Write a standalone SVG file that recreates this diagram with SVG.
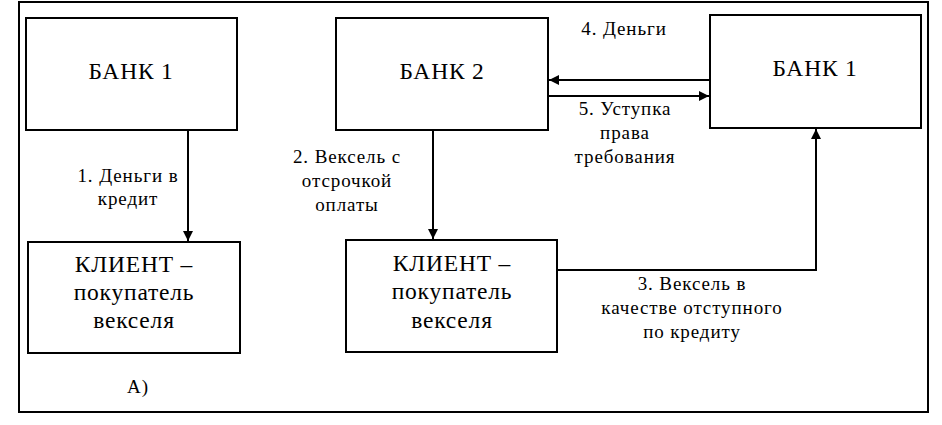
<svg xmlns="http://www.w3.org/2000/svg" width="942" height="425" viewBox="0 0 942 425">
<style>
.box{fill:#fff;stroke:#000;stroke-width:2}
.frame{fill:none;stroke:#000;stroke-width:2}
text{font-family:'Liberation Serif','Times New Roman',serif;text-anchor:middle;fill:#000}
.bt{font-size:23.5px;letter-spacing:0.8px}
.lt{font-size:19px;letter-spacing:0.9px}
.c{fill:none;stroke:#000;stroke-width:2}
</style>
<defs>
<marker id="ah" viewBox="0 0 10 10" refX="10" refY="5" markerWidth="5" markerHeight="5" orient="auto" markerUnits="strokeWidth">
<path d="M0,0 L10,5 L0,10 z" fill="#000"/>
</marker>
</defs>
<rect class="frame" x="19" y="2" width="909" height="410"/>
<g id="connectors">
<line class="c" x1="188" y1="130" x2="188" y2="241" marker-end="url(#ah)"/>
<line class="c" x1="433" y1="130" x2="433" y2="239" marker-end="url(#ah)"/>
<line class="c" x1="710" y1="80" x2="549" y2="80" marker-end="url(#ah)"/>
<line class="c" x1="548" y1="96" x2="709" y2="96" marker-end="url(#ah)"/>
<polyline class="c" points="557,270 816,270 816,129" marker-end="url(#ah)"/>
<text class="lt" x="128" y="182">1. Деньги в</text>
<text class="lt" x="128" y="205">кредит</text>
<text class="lt" x="347" y="163">2. Вексель с</text>
<text class="lt" x="347" y="187">отсрочкой</text>
<text class="lt" x="347" y="211">оплаты</text>
<text class="lt" x="624" y="35">4. Деньги</text>
<text class="lt" x="625" y="115">5. Уступка</text>
<text class="lt" x="625" y="139">права</text>
<text class="lt" x="625" y="163">требования</text>
<text class="lt" x="692" y="290">3. Вексель в</text>
<text class="lt" x="692" y="314">качестве отступного</text>
<text class="lt" x="692" y="338">по кредиту</text>
</g>
<g id="bank1-left">
<rect class="box" x="26" y="18" width="211" height="112"/>
<text class="bt" x="131" y="79">БАНК 1</text>
</g>
<g id="client-left">
<rect class="box" x="28" y="242" width="212" height="111"/>
<text class="bt" x="134" y="272">КЛИЕНТ –</text>
<text class="bt" x="134" y="300">покупатель</text>
<text class="bt" x="134" y="328">векселя</text>
</g>
<g id="bank2">
<rect class="box" x="336" y="18" width="212" height="112"/>
<text class="bt" x="442" y="79">БАНК 2</text>
</g>
<g id="client-right">
<rect class="box" x="346" y="240" width="211" height="112"/>
<text class="bt" x="452" y="271">КЛИЕНТ –</text>
<text class="bt" x="452" y="299">покупатель</text>
<text class="bt" x="452" y="328">векселя</text>
</g>
<g id="bank1-right">
<rect class="box" x="710" y="15" width="211" height="113"/>
<text class="bt" x="815" y="76">БАНК 1</text>
</g>
<text class="lt" x="138" y="393">А)</text>
</svg>
